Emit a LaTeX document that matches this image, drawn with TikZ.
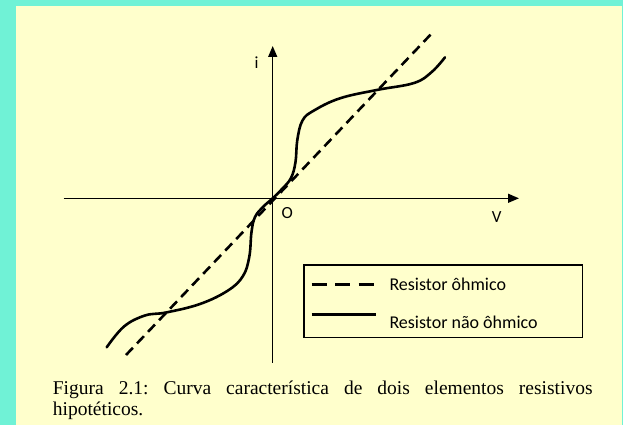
\documentclass[tikz,border=0pt]{standalone}
\usepackage{fontspec}
\setmainfont{Liberation Serif}
\newfontfamily\calib{Carlito}
\usetikzlibrary{arrows.meta}
\definecolor{bordercyan}{RGB}{112,242,214}
\definecolor{cream}{RGB}{255,255,204}
\tikzset{
  axis/.style={line width=1.4pt,-{Triangle[length=11pt,width=9pt]}},
  curve/.style={line width=2.6pt,line cap=round,line join=round},
  ohmline/.style={line width=2.6pt,dash pattern=on 10pt off 6pt},
  legdash/.style={line width=3.6pt,dash pattern=on 15pt off 8.5pt},
  legsolid/.style={line width=2.4pt},
  legbox/.style={draw,line width=1.5pt},
  axlabel/.style={inner sep=0pt,font=\calib\fontsize{17}{20}\selectfont},
  legtext/.style={inner sep=0pt,anchor=base west,font=\calib\fontsize{18}{21}\selectfont},
  captext/.style={inner sep=0pt,anchor=base west,font=\fontsize{19.5}{21.5}\selectfont}
}
\begin{document}
\frenchspacing
\begin{tikzpicture}[x=1pt,y=-1pt]
\useasboundingbox (0,0) rectangle (623,425);
\fill[bordercyan] (0,0) rectangle (623,425);
\fill[cream] (16,6) rectangle (621.5,425);
% axes
\coordinate (xl) at (63.6,198.3);
\coordinate (xr) at (519,198.3);
\coordinate (yb) at (272.7,362.7);
\coordinate (yt) at (272.7,46);
\draw[axis] (xl) -- (xr);
\draw[axis] (yb) -- (yt);
\node[axlabel] (lbi) at (256.5,62.7) {i};
\node[axlabel] (lbo) at (287.3,213.3) {O};
\node[axlabel] (lbv) at (496.7,217.3) {V};
% ohmic line
\coordinate (da) at (126,355);
\coordinate (db) at (434,31);
\draw[ohmline] (da) -- (db);
% non-ohmic curve
\draw[curve] plot[smooth,tension=0.65] coordinates {
 (106.7,347.3) (124,326.5) (145,315.5) (166,312.5) (200,304) (228,290.5)
 (243,276) (249.3,256.7) (251.5,232) (255,217) (263.3,206.7) (272.7,198.3)
 (282,189) (291,178) (295.5,162) (297.3,140) (302.5,120.5) (314,110.5)
 (340,98.3) (376.7,90) (414,83) (431.7,72) (445,57.3)};
% legend
\node[legbox,minimum width=278.5pt,minimum height=72.7pt,inner sep=0pt] (leg) at (443.25,301.35) {};
\coordinate (l1a) at (311.7,284.3);
\coordinate (l1b) at (377,284.3);
\coordinate (l2a) at (311.7,314.3);
\coordinate (l2b) at (376,314.3);
\draw[legdash] (l1a) -- (l1b);
\draw[legsolid] (l2a) -- (l2b);
\node[legtext] (t1) at (389.3,290.7) {Resistor ôhmico};
\node[legtext] (t2) at (389.3,328.3) {Resistor não ôhmico};
% caption
\node[captext] (c1) at (52.7,394.3) {\makebox[539.7pt][s]{Figura 2.1: Curva característica de dois elementos resistivos}};
\node[captext] (c2) at (52.7,415.7) {hipotéticos.};
\end{tikzpicture}
\end{document}
